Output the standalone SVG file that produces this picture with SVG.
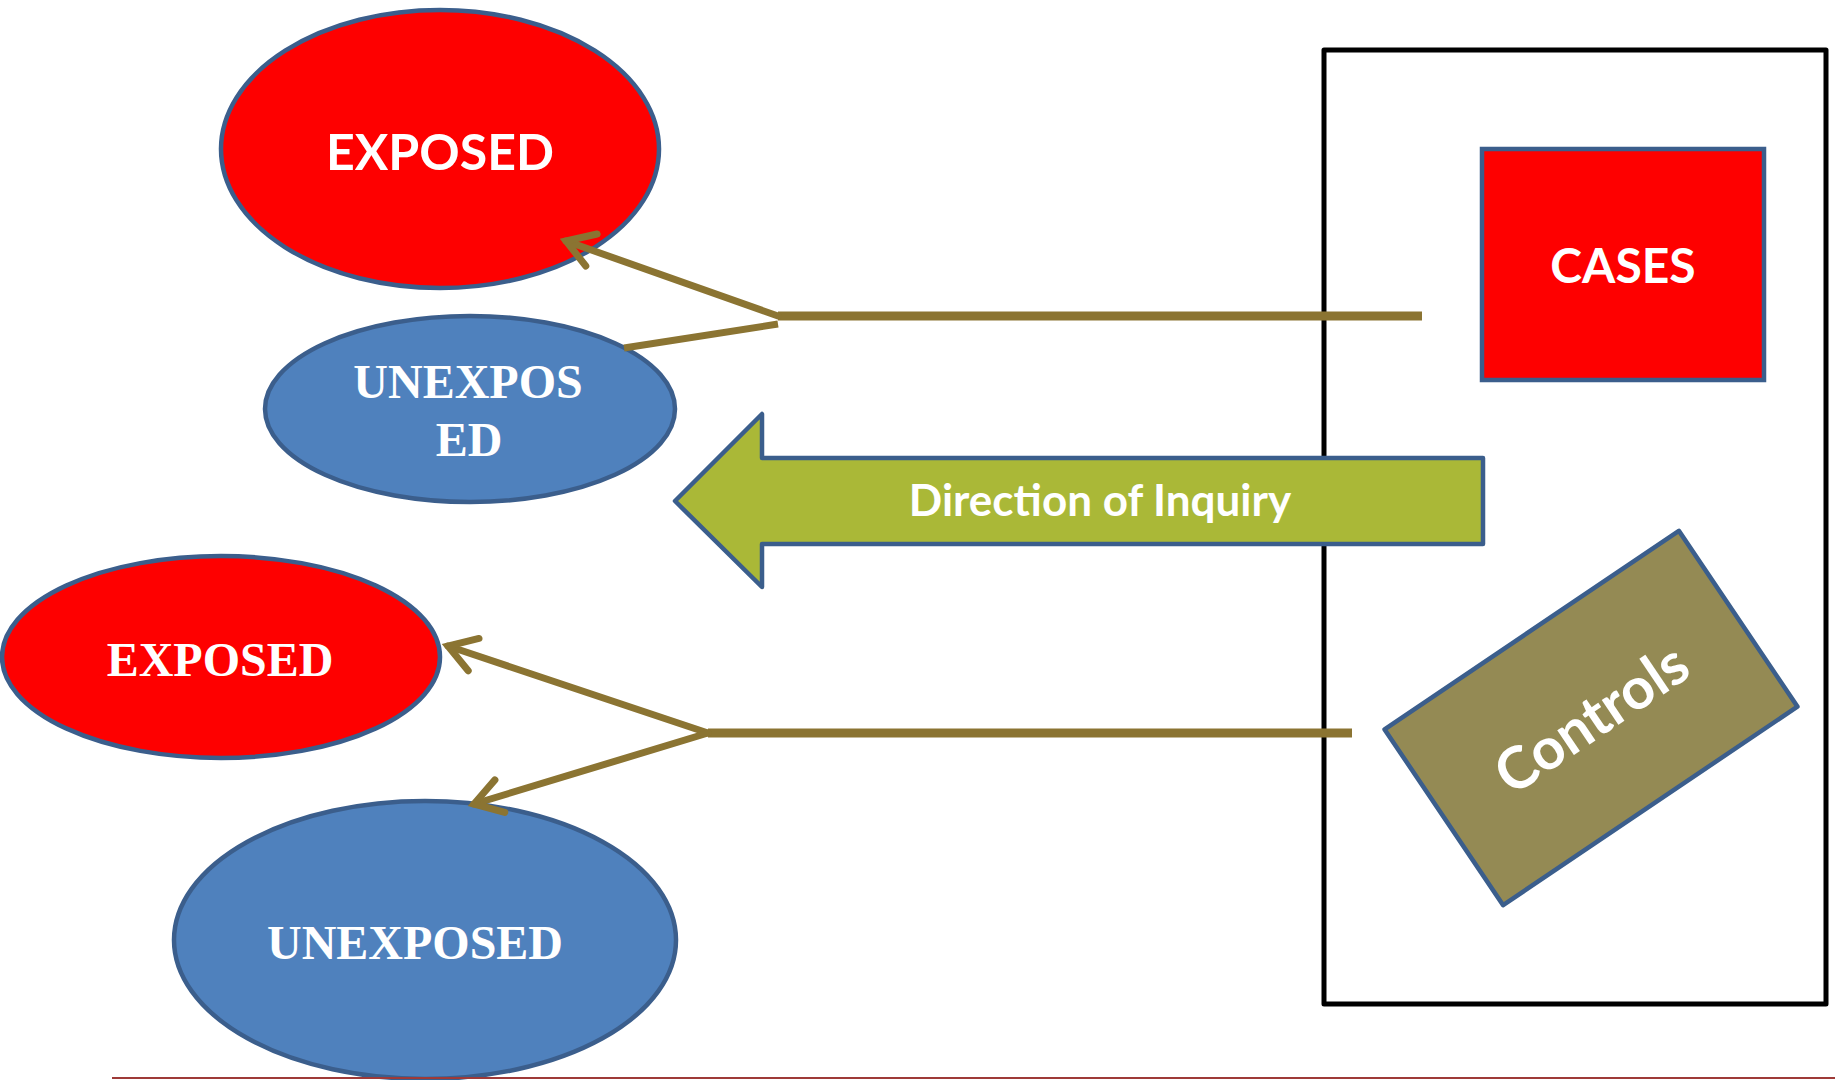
<svg xmlns="http://www.w3.org/2000/svg" width="1835" height="1080" viewBox="0 0 1835 1080">
<defs>
<style>
.red{fill:#fe0000;stroke:#3b5e8c;stroke-width:4.5}
.blue{fill:#4f81bd;stroke:#3b5e8c;stroke-width:4.5}
.sans{font-family:Lato,"Open Sans","Liberation Sans",sans-serif;font-weight:bold;fill:#ffffff;text-anchor:middle}
.serif{font-family:"Liberation Serif","DejaVu Serif",serif;font-weight:bold;fill:#ffffff;text-anchor:middle;font-size:48px}
.conn{fill:none;stroke:#8b7432;stroke-linecap:round}
</style>
<marker id="ah" markerUnits="userSpaceOnUse" viewBox="-40 -25 50 50" markerWidth="50" markerHeight="50" refX="0" refY="0" orient="auto" overflow="visible">
<path d="M -27,-17 L 0,0 L -27,17" fill="none" stroke="#8b7432" stroke-width="7" stroke-linecap="round" stroke-linejoin="miter"/>
</marker>
</defs>
<rect width="1835" height="1080" fill="#ffffff"/>
<g id="frame">
<rect x="1324" y="50" width="502" height="954" fill="none" stroke="#000000" stroke-width="5" stroke-linejoin="round"/>
</g>
<g id="exposed-top">
<ellipse class="red" cx="440" cy="149" rx="219" ry="139"/>
<text class="sans" x="440" y="170" font-size="50">EXPOSED</text>
</g>
<g id="unexposed-top">
<ellipse class="blue" cx="470" cy="409" rx="205" ry="93"/>
<text class="serif" x="468" y="398">UNEXPOS</text>
<text class="serif" x="469" y="456">ED</text>
</g>
<g id="exposed-bottom">
<ellipse class="red" cx="221" cy="657" rx="219" ry="101"/>
<text class="serif" x="220" y="676">EXPOSED</text>
</g>
<g id="unexposed-bottom">
<ellipse class="blue" cx="425" cy="940" rx="251" ry="139"/>
<text class="serif" x="415" y="959">UNEXPOSED</text>
</g>
<g id="cases">
<rect class="red" x="1482" y="149" width="282" height="231"/>
<text class="sans" x="1623" y="283" font-size="48">CASES</text>
</g>
<g id="direction">
<path d="M675,501 L762,414 L762,458 L1483,458 L1483,544 L762,544 L762,587 Z" fill="#aab837" stroke="#3b5e8c" stroke-width="4.5" stroke-linejoin="round"/>
<text class="sans" x="1100" y="516" font-size="44">Direction of Inquiry</text>
</g>
<g id="controls" transform="translate(1591,718) rotate(-34)">
<rect x="-177.5" y="-106" width="355" height="212" fill="#948a54" stroke="#3b5e8c" stroke-width="4.5" stroke-linejoin="round"/>
<text class="sans" x="0" y="21" font-size="58">Controls</text>
</g>
<g id="connectors">
<line class="conn" x1="778" y1="316" x2="1422" y2="316" stroke-width="9" style="stroke-linecap:butt"/>
<path class="conn" d="M778,316 L566,241" stroke-width="7" marker-end="url(#ah)"/>
<path class="conn" d="M778,324 L624,348" stroke-width="7" style="stroke-linecap:butt"/>
<line class="conn" x1="708" y1="733" x2="1352" y2="733" stroke-width="9" style="stroke-linecap:butt"/>
<path class="conn" d="M708,733 L448,646" stroke-width="7" marker-end="url(#ah)"/>
<path class="conn" d="M708,733 L474,804" stroke-width="7" marker-end="url(#ah)"/>
</g>
<line x1="112" y1="1078" x2="1835" y2="1078" stroke="#9e3a38" stroke-width="2"/>
</svg>
